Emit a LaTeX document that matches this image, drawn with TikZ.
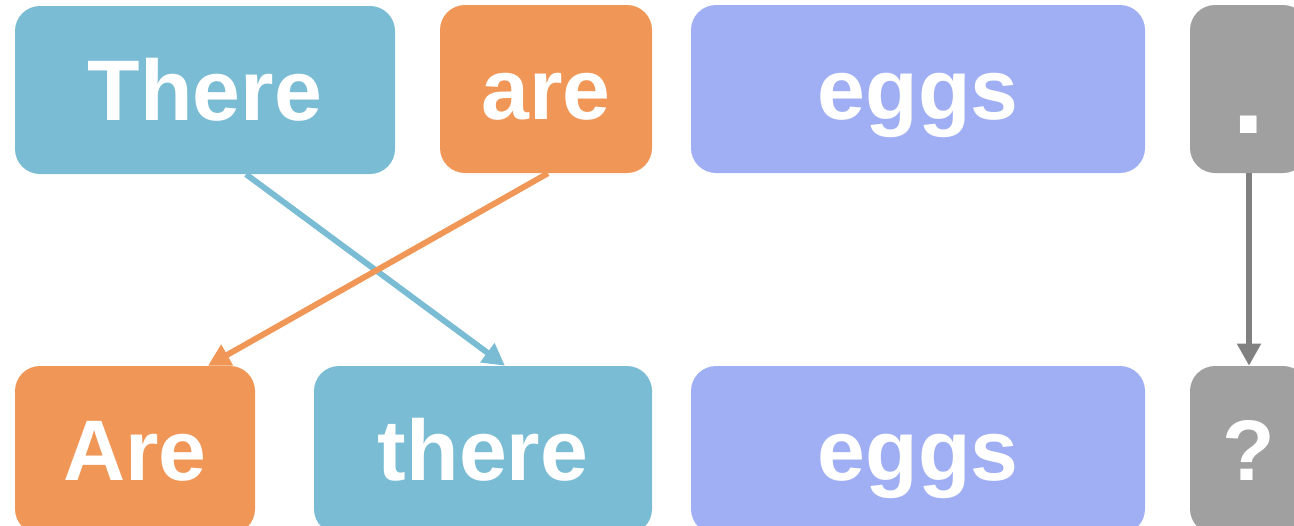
\documentclass[tikz,border=0pt]{standalone}
\usepackage{fontspec}
\setmainfont{Liberation Sans}
\usepackage{tikz}
\usetikzlibrary{arrows.meta}

\definecolor{wordblue}{HTML}{7ABCD4}
\definecolor{wordorange}{HTML}{F09656}
\definecolor{wordpurple}{HTML}{A0AFF3}
\definecolor{wordgray}{HTML}{A0A0A0}
\definecolor{arrowgray}{HTML}{808080}

\tikzset{
  word/.style={rounded corners=18.75pt, inner sep=0pt, minimum height=126pt,
    text=white, font=\fontsize{64.5}{70}\selectfont\bfseries,
    text height=46.2pt, text depth=0pt},
  move/.style={line width=4.4pt, arrows={-Triangle[length=16.5pt,width=17pt]}},
}

\begin{document}
\begin{tikzpicture}[x=0.75pt, y=-0.75pt]
    \useasboundingbox (0,0) rectangle (1294,525);
    % statement
    \node[word, fill=wordblue, minimum width=285pt] (There) at (205,90) {There};
    \node[word, fill=wordorange, minimum width=159pt] (are) at (546,89) {are};
    \node[word, fill=wordpurple, minimum width=340.5pt] (eggs) at (918,89) {eggs};
    \node[word, fill=wordgray, minimum width=88.5pt,
      font=\fontsize{88}{90}\selectfont\bfseries, text height=66pt] (stop) at (1249,89) {.};
    % question
    \node[word, fill=wordorange, minimum width=180pt] (Are) at (135,450) {Are};
    \node[word, fill=wordblue, minimum width=253.5pt] (there) at (483,450) {there};
    \node[word, fill=wordpurple, minimum width=340.5pt] (eggsB) at (918,450) {eggs};
    \node[word, fill=wordgray, minimum width=88.5pt] (ask) at (1249,450) {?};
    % moves
    \draw[move, wordblue] ([xshift=30.75pt]There.south) -- ([xshift=16.5pt]there.north);
    \draw[move, wordorange] ([xshift=1.5pt]are.south) -- ([xshift=54.75pt]Are.north);
    \draw[move, arrowgray] (stop.south) -- (ask.north);
\end{tikzpicture}
\end{document}
